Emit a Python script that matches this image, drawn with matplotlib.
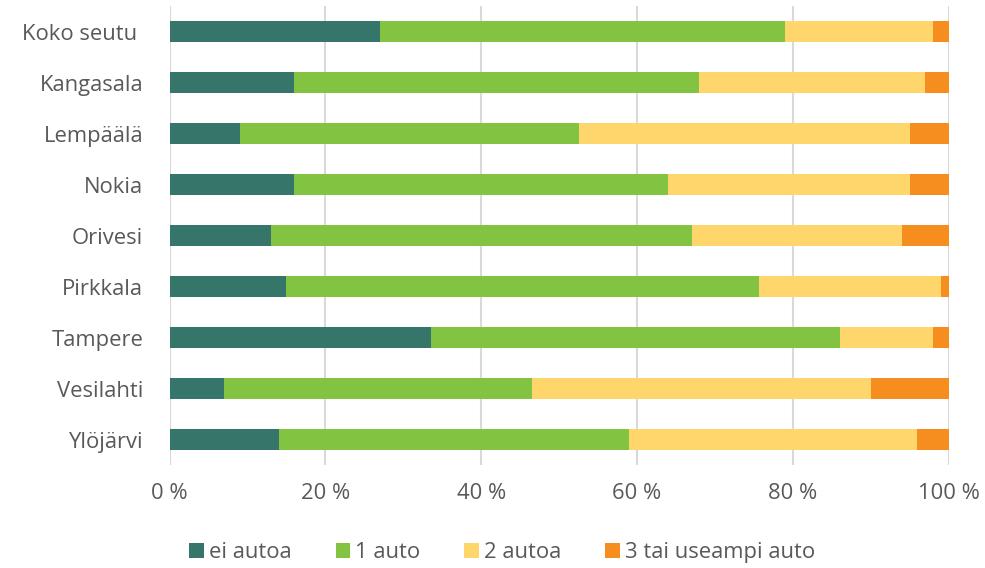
import matplotlib.pyplot as plt
import numpy as np

plt.rcParams['font.family'] = ['Open Sans', 'DejaVu Sans']

# Data (share of households, %)
alueet = ["Koko seutu ", "Kangasala", "Lempäälä", "Nokia", "Orivesi",
          "Pirkkala", "Tampere", "Vesilahti", "Ylöjärvi"]
ei_autoa = [27, 16, 9, 16, 13, 15, 33.6, 7, 14]
yksi_auto = [52, 52, 43.5, 48, 54, 60.7, 52.5, 39.5, 45]
kaksi_autoa = [19, 29, 42.5, 31, 27, 23.3, 11.9, 43.5, 37]
kolme_tai_useampi = [2, 3, 5, 5, 6, 1, 2, 10, 4]

sarjat = [ei_autoa, yksi_auto, kaksi_autoa, kolme_tai_useampi]
nimet = ["ei autoa", "1 auto", "2 autoa", "3 tai useampi auto"]
varit = ['#36766a', '#82c341', '#fed66b', '#f68d1f']
tekstivari = '#595959'

fig = plt.figure(figsize=(9.85, 5.68), dpi=100, facecolor='w')
ax = fig.add_axes([0.1721, 0.1813, 0.7910, 0.8081])

y = np.arange(len(alueet))
vasen = np.zeros(len(alueet))
for arvot, nimi, vari in zip(sarjat, nimet, varit):
    ax.barh(y, arvot, left=vasen, height=0.4, color=vari, label=nimi,
            edgecolor='none', zorder=3)
    vasen = vasen + np.array(arvot)

ax.set_xlim(0, 100)
ax.set_ylim(len(alueet) - 0.5, -0.5)
ax.set_yticks(y)
ax.set_yticklabels(alueet, fontsize=15.8, color=tekstivari)
ax.set_xticks([0, 20, 40, 60, 80, 100])
ax.set_xticklabels(['{} %'.format(v) for v in [0, 20, 40, 60, 80, 100]],
                   fontsize=15.8, color=tekstivari)
ax.tick_params(axis='both', length=0)
ax.tick_params(axis='y', pad=19)
ax.tick_params(axis='x', pad=13)

# Grid
ax.xaxis.grid(True, color='#d9d9d9', lw=1.5, zorder=0)
ax.set_axisbelow(True)
for s in ax.spines.values():
    s.set_visible(False)

fig.legend(loc='center', bbox_to_anchor=(0.51, 0.027), ncol=4,
           frameon=False, fontsize=15.8, labelcolor=tekstivari,
           handlelength=0.65, handleheight=0.65, handletextpad=0.25,
           columnspacing=2.0)

plt.savefig('out.png', dpi=100)
